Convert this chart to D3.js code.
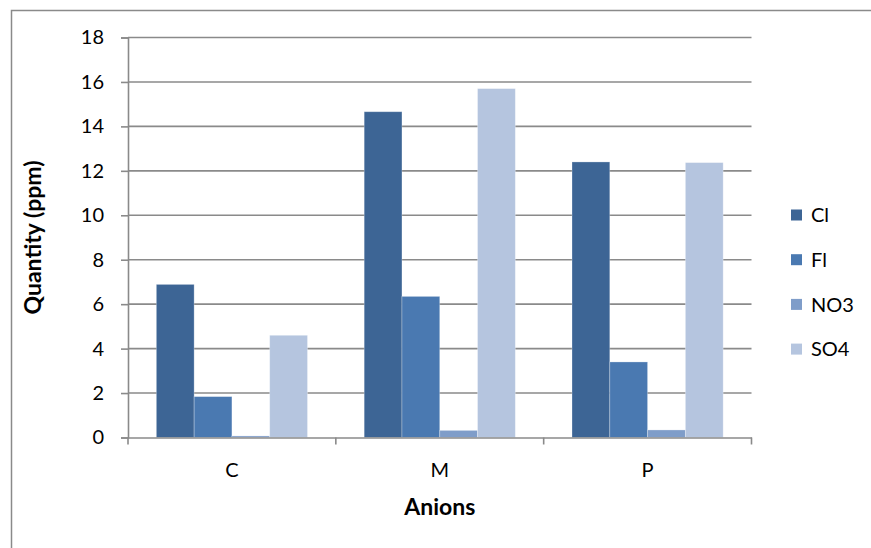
<!DOCTYPE html>
<html>
<head>
<meta charset="utf-8">
<script src="https://cdn.jsdelivr.net/npm/d3@7"></script>
<style>
  html, body { margin: 0; padding: 0; background: #fff; }
  svg { display: block; font-family: Lato, "Liberation Sans", sans-serif; }
</style>
</head>
<body>
<svg id="chart" width="871" height="548"></svg>
<script>
// Anion concentrations per site
const categories = ["C", "M", "P"];
const seriesNames = ["Cl", "Fl", "NO3", "SO4"];
const clValues  = [6.89, 14.66, 12.4];
const flValues  = [1.84, 6.35, 3.4];
const no3Values = [0.07, 0.32, 0.34];
const so4Values = [4.6, 15.7, 12.37];
const yTicks = [0, 2, 4, 6, 8, 10, 12, 14, 16, 18];
const colors = ["#3d6595", "#4a79b1", "#7f9dc9", "#b5c5df"];

const seriesValues = [clValues, flValues, no3Values, so4Values];

const svg = d3.select("#chart");
const plot = { left: 128, right: 751.5, top: 37.5, bottom: 437.5 };
const gridColor = "#8a8a8a";
const labelSize = 20;
const titleSize = 23;

// Chart frame
svg.append("rect")
  .attr("x", 11.5).attr("y", 10.5)
  .attr("width", 900).attr("height", 600)
  .attr("fill", "none").attr("stroke", gridColor).attr("stroke-width", 1.5);

const x0 = d3.scaleBand().domain(categories).range([plot.left, plot.right]).paddingInner(0).paddingOuter(0);
const x1 = d3.scaleBand().domain(seriesNames).range([0, x0.bandwidth()]).paddingOuter(0.75).paddingInner(0);
const y = d3.scaleLinear().domain([0, 18]).range([plot.bottom, plot.top]);

// Horizontal gridlines
svg.append("g").selectAll("line").data(yTicks.filter(d => d > 0)).join("line")
  .attr("x1", plot.left).attr("x2", plot.right)
  .attr("y1", d => y(d)).attr("y2", d => y(d))
  .attr("stroke", gridColor).attr("stroke-width", 1.6);

// Bars
const groups = svg.append("g").selectAll("g").data(categories).join("g")
  .attr("transform", d => `translate(${x0(d)},0)`);
groups.selectAll("rect")
  .data((c, ci) => seriesNames.map((s, si) => ({ s, si, v: seriesValues[si][ci] })))
  .join("rect")
  .attr("x", d => x1(d.s))
  .attr("width", x1.bandwidth())
  .attr("y", d => y(d.v))
  .attr("height", d => y(0) - y(d.v))
  .attr("fill", d => colors[d.si])
  .attr("stroke", "rgba(255,255,255,0.35)")
  .attr("stroke-width", 0.8);

// Y axis
const yAxis = svg.append("g")
  .attr("transform", `translate(${plot.left},0)`)
  .call(d3.axisLeft(y).tickValues(yTicks).tickSize(7).tickPadding(17).tickFormat(d3.format("d")));
yAxis.select(".domain").attr("stroke", gridColor).attr("stroke-width", 1.6);
yAxis.selectAll(".tick line").attr("stroke", gridColor).attr("stroke-width", 1.6);
yAxis.selectAll(".tick text").attr("font-size", labelSize).attr("fill", "#000").attr("font-family", "Lato");

// X axis
const xAxis = svg.append("g")
  .attr("transform", `translate(0,${plot.bottom})`)
  .call(d3.axisBottom(x0).tickSize(0).tickPadding(25));
xAxis.select(".domain").attr("stroke", gridColor).attr("stroke-width", 1.6);
xAxis.selectAll(".tick text").attr("font-size", labelSize).attr("fill", "#000").attr("font-family", "Lato");
// category boundary ticks
const bounds = categories.map(c => x0(c)).concat([plot.right]);
xAxis.append("g").selectAll("line").data(bounds).join("line")
  .attr("x1", d => d).attr("x2", d => d)
  .attr("y1", 0).attr("y2", 7)
  .attr("stroke", gridColor).attr("stroke-width", 1.6);

// Axis titles
svg.append("text")
  .attr("x", (plot.left + plot.right) / 2).attr("y", 515)
  .attr("text-anchor", "middle").attr("font-weight", "bold").attr("font-size", titleSize)
  .text("Anions");
svg.append("text")
  .attr("transform", `translate(41,${(plot.top + plot.bottom) / 2}) rotate(-90)`)
  .attr("text-anchor", "middle").attr("font-weight", "bold").attr("font-size", titleSize)
  .text("Quantity (ppm)");

// Legend
const legend = svg.append("g").selectAll("g").data(seriesNames).join("g")
  .attr("transform", (d, i) => `translate(791,${215 + i * 44.7})`);
legend.append("rect")
  .attr("x", 0).attr("y", -5.5).attr("width", 11).attr("height", 11)
  .attr("fill", (d, i) => colors[i]);
legend.append("text")
  .attr("x", 20).attr("y", 0).attr("dy", "0.36em")
  .attr("font-size", labelSize)
  .text(d => d);
</script>
</body>
</html>
